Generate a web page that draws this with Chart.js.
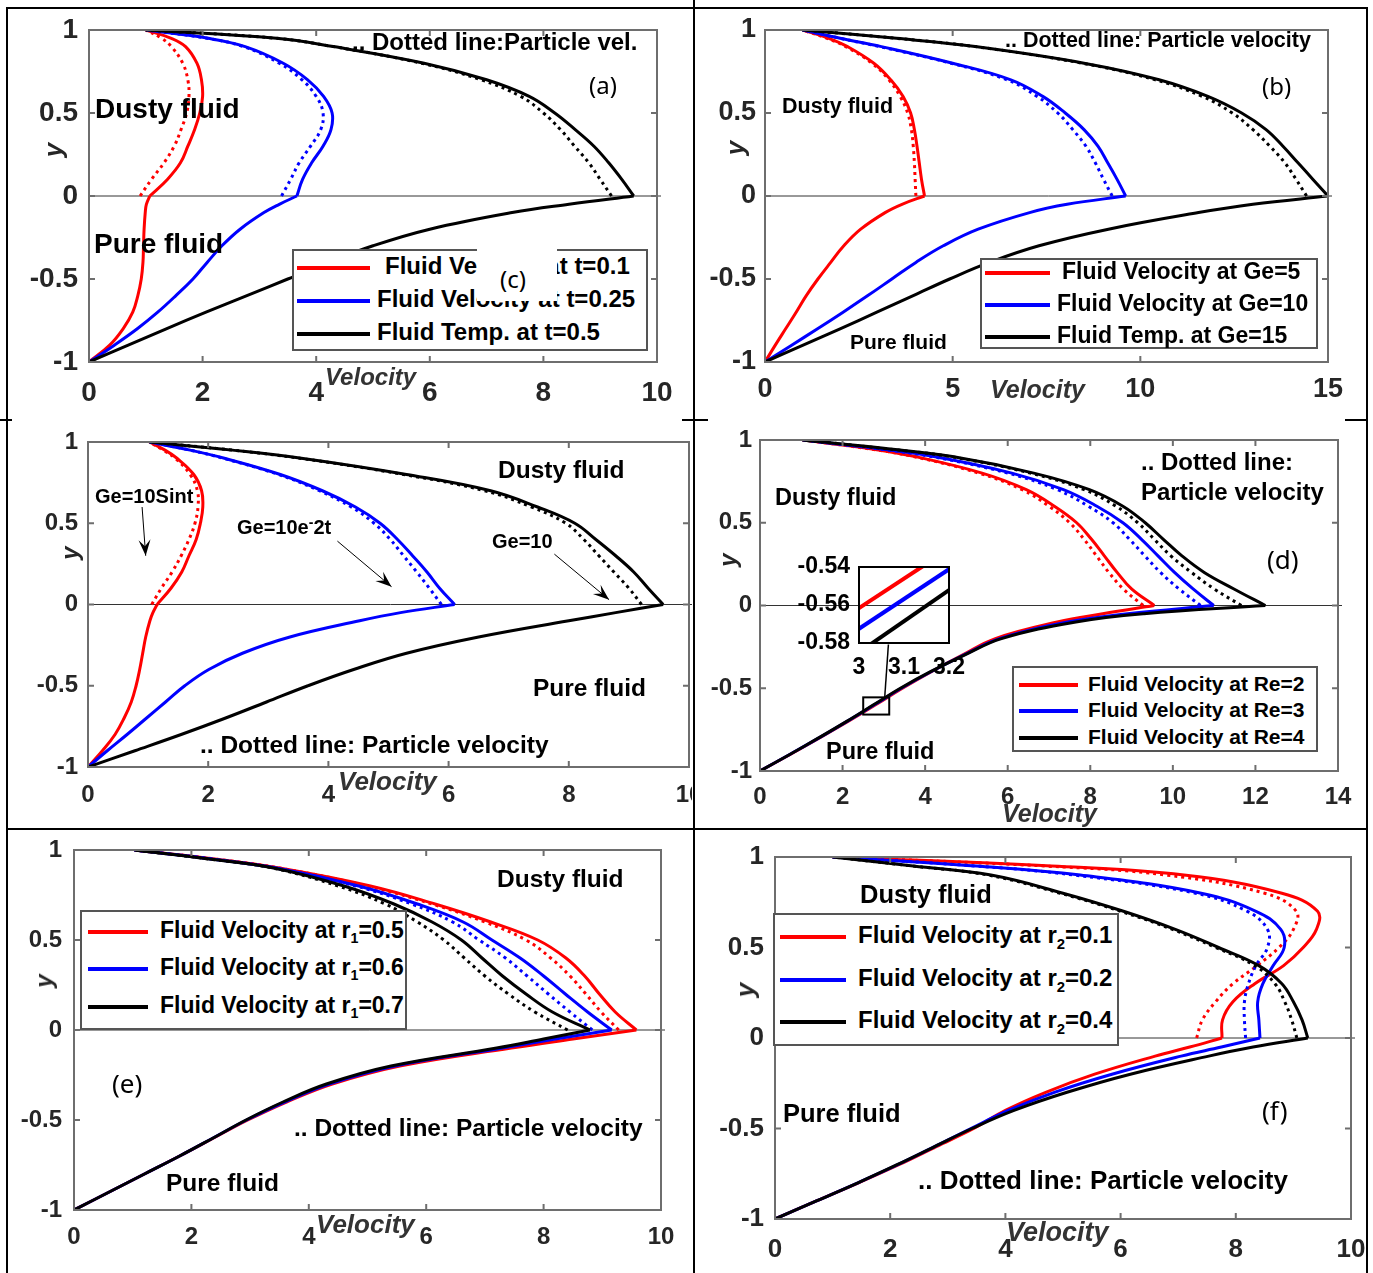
<!DOCTYPE html>
<html>
<head>
<meta charset="utf-8">
<title>Dusty fluid velocity profiles</title>
<script src="https://cdn.jsdelivr.net/npm/chart.js"></script>
<style>
    body { margin: 0; background: #fff; }
    #page { position: relative; width: 1373px; height: 1273px; overflow: hidden; background: #fff;
            font-family: "Liberation Sans", Arial, sans-serif; }
    canvas { position: absolute; }
    .t { position: absolute; white-space: nowrap; font-weight: bold; color: #000; line-height: 1;
         transform: translateY(-50%); }
    .tag { font-weight: normal; font-family: "Noto Sans", "Open Sans", sans-serif; }
    .ax { font-style: italic; color: #333; }
    .ylab { position: absolute; font-weight: bold; font-style: italic; color: #262626; line-height: 1;
            transform: translate(-50%, -50%) rotate(-90deg); }
    .rule { position: absolute; background: #000; }
    .leg { position: absolute; background: #fff; border: 2px solid #555; box-sizing: border-box; }
    .sw { position: absolute; height: 4px; }
    sub { font-size: 0.62em; vertical-align: -0.4em; line-height: 0; }
    sup { font-size: 0.7em; vertical-align: 0.5em; line-height: 0; }
</style>
</head>
<body>
<div id="page"></div>
<script>
// channel positions: dusty fluid above the interface, pure fluid below
const yUpper = [0, 0.1, 0.2, 0.3, 0.4, 0.5, 0.6, 0.7, 0.8, 0.9, 0.95, 1];
const yLower = [-1, -0.9, -0.8, -0.7, -0.6, -0.5, -0.4, -0.3, -0.2, -0.1, -0.05, 0];
const yTicks = [-1, -0.5, 0, 0.5, 1];
const yTickLabels = ["-1", "-0.5", "0", "0.5", "1"];

// (a) time
const aTicks = [0, 2, 4, 6, 8, 10];
const aRedUp = [1.07, 1.38, 1.61, 1.74, 1.86, 1.95, 2.0, 1.98, 1.9, 1.7, 1.45, 1.0];
const aRedDot = [0.9, 1.1, 1.32, 1.5, 1.62, 1.72, 1.76, 1.74, 1.65, 1.45, 1.28, 1.0];
const aRedLow = [0, 0.36, 0.6, 0.77, 0.86, 0.92, 0.95, 0.96, 0.97, 0.99, 1.01, 1.07];
const aBlueUp = [3.66, 3.76, 3.92, 4.12, 4.26, 4.28, 4.13, 3.85, 3.42, 2.75, 2.1, 1.0];
const aBlueDot = [3.39, 3.55, 3.7, 3.9, 4.08, 4.12, 4.0, 3.75, 3.35, 2.72, 2.08, 1.0];
const aBlueLow = [0, 0.44, 0.85, 1.21, 1.53, 1.83, 2.08, 2.34, 2.66, 3.08, 3.35, 3.66];
const aBlackUp = [9.59, 9.38, 9.15, 8.89, 8.56, 8.2, 7.75, 7.0, 5.9, 4.3, 3.3, 1.0];
const aBlackDot = [9.2, 9.0, 8.8, 8.55, 8.3, 8.0, 7.6, 6.9, 5.85, 4.3, 3.3, 1.0];
const aBlackLow = [0, 0.68, 1.36, 2.06, 2.78, 3.5, 4.22, 5.0, 6.0, 7.45, 8.45, 9.59];

// (b) Grashof number
const bTicks = [0, 5, 10, 15];
const bRedUp = [4.25, 4.17, 4.11, 4.05, 3.98, 3.88, 3.68, 3.35, 2.9, 2.2, 1.7, 1.0];
const bRedDot = [4.02, 4.0, 3.98, 3.95, 3.9, 3.8, 3.6, 3.3, 2.85, 2.15, 1.65, 1.0];
const bRedLow = [0, 0.27, 0.55, 0.83, 1.1, 1.41, 1.75, 2.1, 2.55, 3.2, 3.65, 4.25];
const bBlueUp = [9.61, 9.38, 9.13, 8.87, 8.5, 8.0, 7.4, 6.55, 5.0, 3.1, 2.0, 1.0];
const bBlueDot = [9.25, 9.02, 8.8, 8.55, 8.2, 7.8, 7.25, 6.45, 4.95, 3.05, 2.0, 1.0];
const bBlueLow = [0, 0.7, 1.4, 2.08, 2.74, 3.38, 4.02, 4.75, 5.68, 7.05, 8.05, 9.61];
const bBlackUp = [15.0, 14.6, 14.2, 13.8, 13.35, 12.7, 11.8, 10.5, 8.5, 5.6, 3.5, 1.0];
const bBlackDot = [14.43, 14.15, 13.85, 13.45, 13.0, 12.45, 11.65, 10.4, 8.45, 5.6, 3.5, 1.0];
const bBlackLow = [0, 1.0, 2.0, 2.98, 3.95, 4.92, 5.98, 7.3, 9.15, 11.55, 13.0, 15.0];

// (c) type of Ge
const cTicks = [0, 2, 4, 6, 8, 10];
const cRedUp = [1.15, 1.38, 1.56, 1.68, 1.8, 1.87, 1.91, 1.89, 1.76, 1.48, 1.28, 1.02];
const cRedDot = [1.06, 1.22, 1.4, 1.55, 1.68, 1.78, 1.83, 1.82, 1.7, 1.45, 1.25, 1.02];
const cRedLow = [0, 0.24, 0.45, 0.6, 0.72, 0.8, 0.86, 0.91, 0.96, 1.03, 1.08, 1.15];
const cBlueUp = [6.1, 5.85, 5.64, 5.4, 5.15, 4.86, 4.45, 3.9, 3.2, 2.27, 1.7, 1.02];
const cBlueDot = [5.88, 5.68, 5.47, 5.25, 5.03, 4.76, 4.38, 3.85, 3.17, 2.25, 1.7, 1.02];
const cBlueLow = [0, 0.32, 0.65, 0.97, 1.29, 1.61, 2.01, 2.57, 3.36, 4.52, 5.2, 6.1];
const cBlackUp = [9.57, 9.32, 9.08, 8.78, 8.45, 8.1, 7.48, 6.7, 5.3, 3.55, 2.4, 1.02];
const cBlackDot = [9.21, 9.0, 8.75, 8.5, 8.25, 7.95, 7.38, 6.6, 5.25, 3.52, 2.4, 1.02];
const cBlackLow = [0, 0.78, 1.55, 2.28, 2.97, 3.66, 4.42, 5.3, 6.5, 8.0, 8.78, 9.57];

// (d) Reynolds number
const dTicks = [0, 2, 4, 6, 8, 10, 12, 14];
const dRedUp = [9.55, 9.0, 8.65, 8.34, 8.03, 7.67, 7.13, 6.45, 5.38, 3.76, 2.6, 1.03];
const dRedDot = [9.28, 8.8, 8.45, 8.15, 7.85, 7.5, 7.0, 6.35, 5.3, 3.72, 2.55, 1.03];
const dRedLow = [0, 0.73, 1.44, 2.13, 2.8, 3.45, 4.15, 4.9, 5.7, 7.2, 8.3, 9.55];
const dBlueUp = [10.99, 10.49, 10.04, 9.64, 9.24, 8.79, 8.16, 7.35, 6.1, 4.21, 2.8, 1.03];
const dBlueDot = [10.67, 10.15, 9.7, 9.32, 8.95, 8.55, 7.95, 7.2, 6.0, 4.15, 2.75, 1.03];
const dBlueLow = [0, 0.72, 1.43, 2.11, 2.77, 3.42, 4.14, 4.93, 5.8, 7.45, 8.9, 10.99];
const dBlackUp = [12.24, 11.48, 10.76, 10.22, 9.77, 9.33, 8.79, 7.98, 6.63, 4.66, 3.0, 1.03];
const dBlackDot = [11.66, 11.0, 10.45, 9.95, 9.55, 9.15, 8.62, 7.85, 6.55, 4.6, 2.95, 1.03];
const dBlackLow = [0, 0.72, 1.42, 2.1, 2.75, 3.4, 4.13, 4.95, 5.85, 7.65, 9.3, 12.24];
// zoomed window of (d)
const insetX = [3.0, 3.2];
const insetXTicks = [3, 3.1, 3.2];
const insetXLabels = ["3", "3.1", "3.2"];
const insetYTicks = [-0.58, -0.56, -0.54];
const insetYLabels = ["-0.58", "-0.56", "-0.54"];
const insetRed = [-0.5616, -0.5306];
const insetBlue = [-0.5725, -0.5412];
const insetBlack = [-0.5849, -0.5522];

// (e) r1
const eTicks = [0, 2, 4, 6, 8, 10];
const eRedUp = [9.58, 9.22, 8.95, 8.7, 8.38, 7.9, 7.1, 6.15, 5.05, 3.5, 2.4, 1.03];
const eRedDot = [9.28, 8.98, 8.72, 8.45, 8.12, 7.7, 7.0, 6.1, 5.0, 3.5, 2.4, 1.03];
const eRedLow = [0, 0.6, 1.2, 1.8, 2.38, 2.96, 3.62, 4.4, 5.55, 7.45, 8.5, 9.58];
const eBlueUp = [9.16, 8.75, 8.37, 8.0, 7.6, 7.12, 6.63, 5.85, 4.85, 3.45, 2.35, 1.03];
const eBlueDot = [8.83, 8.45, 8.08, 7.72, 7.35, 6.9, 6.45, 5.75, 4.8, 3.42, 2.35, 1.03];
const eBlueLow = [0, 0.6, 1.2, 1.8, 2.37, 2.94, 3.59, 4.35, 5.47, 7.3, 8.2, 9.16];
const eBlackUp = [8.79, 8.15, 7.7, 7.3, 6.95, 6.6, 6.1, 5.45, 4.6, 3.4, 2.3, 1.03];
const eBlackDot = [8.41, 7.85, 7.4, 7.0, 6.65, 6.3, 5.85, 5.3, 4.5, 3.38, 2.3, 1.03];
const eBlackLow = [0, 0.6, 1.2, 1.8, 2.37, 2.93, 3.56, 4.3, 5.4, 7.2, 8.0, 8.79];

// (f) r2
const fTicks = [0, 2, 4, 6, 8, 10];
const fRedUp = [7.76, 7.77, 7.95, 8.33, 8.83, 9.17, 9.4, 9.42, 8.8, 7.1, 4.8, 1.0];
const fRedDot = [7.32, 7.42, 7.65, 7.95, 8.37, 8.75, 9.0, 9.05, 8.5, 6.8, 4.7, 1.0];
const fRedLow = [0, 0.72, 1.45, 2.15, 2.8, 3.45, 4.0, 4.7, 5.55, 6.6, 7.2, 7.76];
const fBlueUp = [8.42, 8.4, 8.38, 8.47, 8.65, 8.84, 8.78, 8.35, 7.4, 5.3, 3.5, 1.0];
const fBlueDot = [8.17, 8.15, 8.15, 8.22, 8.35, 8.55, 8.55, 8.2, 7.3, 5.2, 3.5, 1.0];
const fBlueLow = [0, 0.72, 1.44, 2.13, 2.77, 3.4, 4.05, 4.85, 5.85, 7.05, 7.75, 8.42];
const fBlackUp = [9.25, 9.15, 9.0, 8.8, 8.4, 7.7, 6.95, 6.05, 5.0, 3.75, 2.4, 1.0];
const fBlackDot = [9.06, 8.97, 8.85, 8.68, 8.33, 7.65, 6.9, 6.0, 4.95, 3.7, 2.4, 1.0];
const fBlackLow = [0, 0.72, 1.44, 2.12, 2.77, 3.42, 4.15, 5.07, 6.17, 7.53, 8.3, 9.25];

const RED = "#ff0000";
const BLUE = "#0000ff";
const BLACK = "#000000";
const FONT = "'Liberation Sans', Arial, sans-serif";

const page = document.getElementById("page");

// frame, inward ticks, interface line and annotation marks (MATLAB look)
const axesBox = {
    id: "axesBox",
    beforeDatasetsDraw(chart, args, opts) {
        if (!opts.zero) return;
        const a = chart.chartArea;
        const y0 = chart.scales.y.getPixelForValue(0);
        const ctx = chart.ctx;
        ctx.save();
        ctx.strokeStyle = "#333";
        ctx.lineWidth = 1;
        ctx.beginPath();
        ctx.moveTo(a.left, y0);
        ctx.lineTo(a.right + 4, y0);
        ctx.stroke();
        ctx.restore();
    },
    afterDatasetsDraw(chart, args, opts) {
        const ctx = chart.ctx;
        const a = chart.chartArea;
        const sx = chart.scales.x;
        const sy = chart.scales.y;
        ctx.save();
        ctx.strokeStyle = opts.color || "#6e6e6e";
        ctx.lineWidth = opts.width || 2;
        ctx.strokeRect(a.left, a.top, a.right - a.left, a.bottom - a.top);
        const len = opts.tick || 0;
        if (len) {
            ctx.beginPath();
            sx.ticks.forEach(t => {
                const px = sx.getPixelForValue(t.value);
                ctx.moveTo(px, a.bottom);
                ctx.lineTo(px, a.bottom - len);
                ctx.moveTo(px, a.top);
                ctx.lineTo(px, a.top + len);
            });
            sy.ticks.forEach(t => {
                const py = sy.getPixelForValue(t.value);
                ctx.moveTo(a.left, py);
                ctx.lineTo(a.left + len, py);
                ctx.moveTo(a.right, py);
                ctx.lineTo(a.right - len, py);
            });
            ctx.stroke();
        }
        ctx.strokeStyle = "#000";
        ctx.fillStyle = "#000";
        (opts.rects || []).forEach(r => {
            const x1 = sx.getPixelForValue(r[0]), y1 = sy.getPixelForValue(r[1]);
            const x2 = sx.getPixelForValue(r[2]), y2 = sy.getPixelForValue(r[3]);
            ctx.lineWidth = 2;
            ctx.strokeRect(x1, y1, x2 - x1, y2 - y1);
        });
        (opts.segments || []).forEach(s => {
            ctx.lineWidth = 1.5;
            ctx.beginPath();
            ctx.moveTo(sx.getPixelForValue(s[0]), sy.getPixelForValue(s[1]));
            ctx.lineTo(sx.getPixelForValue(s[2]), sy.getPixelForValue(s[3]));
            ctx.stroke();
        });
        (opts.arrows || []).forEach(s => {
            const x1 = sx.getPixelForValue(s[0]), y1 = sy.getPixelForValue(s[1]);
            const x2 = sx.getPixelForValue(s[2]), y2 = sy.getPixelForValue(s[3]);
            const ang = Math.atan2(y2 - y1, x2 - x1);
            ctx.lineWidth = 1;
            ctx.beginPath();
            ctx.moveTo(x1, y1);
            ctx.lineTo(x2, y2);
            ctx.stroke();
            const h = 16, w = 6;
            ctx.beginPath();
            ctx.moveTo(x2, y2);
            ctx.lineTo(x2 - h * Math.cos(ang) - w * Math.sin(ang), y2 - h * Math.sin(ang) + w * Math.cos(ang));
            ctx.lineTo(x2 - 0.6 * h * Math.cos(ang), y2 - 0.6 * h * Math.sin(ang));
            ctx.lineTo(x2 - h * Math.cos(ang) + w * Math.sin(ang), y2 - h * Math.sin(ang) - w * Math.cos(ang));
            ctx.closePath();
            ctx.fill();
        });
        ctx.restore();
    }
};

function series(ys, xs, color, dotted) {
    return {
        data: ys.map((y, i) => ({ x: xs[i], y: y })),
        borderColor: color,
        borderWidth: 3,
        borderDash: dotted ? [3, 4] : [],
        pointRadius: 0,
        tension: 0.4,
        fill: false,
    };
}

function makeCanvas(box, padL, padT, padR, padB) {
    const cv = document.createElement("canvas");
    const w = box[2] - box[0] + padL + padR;
    const h = box[3] - box[1] + padT + padB;
    cv.width = w;
    cv.height = h;
    cv.style.left = (box[0] - padL) + "px";
    cv.style.top = (box[1] - padT) + "px";
    cv.style.width = w + "px";
    cv.style.height = h + "px";
    page.appendChild(cv);
    return cv;
}

function makePanel(p) {
    const padL = 80, padT = 20, padB = 60;
    const cv = makeCanvas(p.box, padL, padT, p.padR, padB);
    let datasets = [];
    p.curves.forEach(c => {
        datasets.push(series(yLower, c[1], c[0], false));
        datasets.push(series(yUpper, c[2], c[0], false));
        datasets.push(series(yUpper, c[3], c[0], true));
    });
    datasets = datasets.reverse();
    const tickFont = { family: FONT, size: p.font, weight: "bold" };
    return new Chart(cv, {
        type: "line",
        data: { datasets: datasets },
        options: {
            responsive: false,
            animation: false,
            indexAxis: "y",
            layout: { padding: { top: padT, right: p.padR, left: 0, bottom: 0 } },
            plugins: {
                legend: { display: false },
                tooltip: { enabled: false },
                axesBox: Object.assign({ zero: true, tick: 6 }, p.deco || {}),
            },
            scales: {
                x: {
                    type: "linear",
                    min: 0,
                    max: p.xMax,
                    afterBuildTicks: s => { s.ticks = p.xTicks.map(v => ({ value: v })); },
                    afterFit: s => { s.height = padB; s.paddingLeft = 0; s.paddingRight = 0; },
                    ticks: {
                        font: tickFont,
                        color: "#262626",
                        padding: p.xGap - 0.6 * p.font,
                        maxRotation: 0,
                        autoSkip: false,
                        callback: v => String(v),
                    },
                    grid: { display: false, drawTicks: false },
                    border: { display: false },
                },
                y: {
                    type: "linear",
                    min: -1,
                    max: 1,
                    afterBuildTicks: s => { s.ticks = yTicks.map(v => ({ value: v })); },
                    afterFit: s => { s.width = padL; s.paddingTop = 0; s.paddingBottom = 0; },
                    ticks: {
                        font: tickFont,
                        color: "#262626",
                        padding: p.yGap,
                        autoSkip: false,
                        callback: (v, i) => yTickLabels[i],
                    },
                    grid: { display: false, drawTicks: false },
                    border: { display: false },
                },
            },
        },
        plugins: [axesBox],
    });
}

const panels = [
    {
        box: [89, 30, 657, 362], xMax: 10, xTicks: aTicks, font: 28, yGap: 11, xGap: 31, padR: 22,
        curves: [[RED, aRedLow, aRedUp, aRedDot], [BLUE, aBlueLow, aBlueUp, aBlueDot], [BLACK, aBlackLow, aBlackUp, aBlackDot]],
    },
    {
        box: [765, 30, 1328, 362], xMax: 15, xTicks: bTicks, font: 27, yGap: 9, xGap: 28, padR: 25,
        curves: [[RED, bRedLow, bRedUp, bRedDot], [BLUE, bBlueLow, bBlueUp, bBlueDot], [BLACK, bBlackLow, bBlackUp, bBlackDot]],
    },
    {
        box: [88, 442, 689, 767], xMax: 10, xTicks: cTicks, font: 24, yGap: 10, xGap: 28, padR: 3,
        curves: [[RED, cRedLow, cRedUp, cRedDot], [BLUE, cBlueLow, cBlueUp, cBlueDot], [BLACK, cBlackLow, cBlackUp, cBlackDot]],
        deco: { arrows: [[0.9, 0.6, 0.96, 0.3], [4.15, 0.39, 5.05, 0.11], [7.76, 0.31, 8.67, 0.03]] },
    },
    {
        box: [760, 440, 1338, 771], xMax: 14, xTicks: dTicks, font: 24, yGap: 8, xGap: 26, padR: 25,
        curves: [[RED, dRedLow, dRedUp, dRedDot], [BLUE, dBlueLow, dBlueUp, dBlueDot], [BLACK, dBlackLow, dBlackUp, dBlackDot]],
        deco: { rects: [[2.5, -0.555, 3.13, -0.659]], segments: [[3.11, -0.236, 3.02, -0.557]] },
    },
    {
        box: [74, 850, 661, 1210], xMax: 10, xTicks: eTicks, font: 24, yGap: 12, xGap: 27, padR: 20,
        curves: [[RED, eRedLow, eRedUp, eRedDot], [BLUE, eBlueLow, eBlueUp, eBlueDot], [BLACK, eBlackLow, eBlackUp, eBlackDot]],
    },
    {
        box: [775, 857, 1351, 1219], xMax: 10, xTicks: fTicks, font: 26, yGap: 11, xGap: 31, padR: 15,
        curves: [[RED, fRedLow, fRedUp, fRedDot], [BLUE, fBlueLow, fBlueUp, fBlueDot], [BLACK, fBlackLow, fBlackUp, fBlackDot]],
    },
];

panels.forEach(makePanel);

// inset of (d)
const insetBox = [859, 567, 949, 643];
const insetCanvas = makeCanvas(insetBox, 75, 12, 30, 45);
const insetFont = { family: FONT, size: 23, weight: "bold" };
new Chart(insetCanvas, {
    type: "line",
    data: {
        datasets: [
            { data: insetX.map((x, i) => ({ x: x, y: insetBlack[i] })), borderColor: BLACK, borderWidth: 4, pointRadius: 0, clip: 0 },
            { data: insetX.map((x, i) => ({ x: x, y: insetBlue[i] })), borderColor: BLUE, borderWidth: 4, pointRadius: 0, clip: 0 },
            { data: insetX.map((x, i) => ({ x: x, y: insetRed[i] })), borderColor: RED, borderWidth: 4, pointRadius: 0, clip: 0 },
        ],
    },
    options: {
        responsive: false,
        animation: false,
        layout: { padding: { top: 12, right: 30, left: 0, bottom: 0 } },
        plugins: {
            legend: { display: false },
            tooltip: { enabled: false },
            axesBox: { color: "#000", width: 2 },
        },
        scales: {
            x: {
                type: "linear",
                min: 3,
                max: 3.2,
                afterBuildTicks: s => { s.ticks = insetXTicks.map(v => ({ value: v })); },
                afterFit: s => { s.height = 45; s.paddingLeft = 0; s.paddingRight = 0; },
                ticks: { font: insetFont, color: "#000", padding: 11, maxRotation: 0, autoSkip: false, callback: (v, i) => insetXLabels[i] },
                grid: { display: false, drawTicks: false },
                border: { display: false },
            },
            y: {
                type: "linear",
                min: -0.58,
                max: -0.54,
                afterBuildTicks: s => { s.ticks = insetYTicks.map(v => ({ value: v })); },
                afterFit: s => { s.width = 75; s.paddingTop = 0; s.paddingBottom = 0; },
                ticks: { font: insetFont, color: "#000", padding: 9, autoSkip: false, callback: (v, i) => insetYLabels[i] },
                grid: { display: false, drawTicks: false },
                border: { display: false },
            },
        },
    },
    plugins: [axesBox],
});

// legends: box, swatch span, rows [colour, y, text x, text]
const legends = [
    { box: [292, 249, 648, 351], sw: [297, 370], size: 24, rows: [
        [RED, 268, 385, "Fluid Velocity at t=0.1"],
        [BLUE, 301, 377, "Fluid Velocity at t=0.25"],
        [BLACK, 334, 377, "Fluid Temp. at t=0.5"]] },
    { box: [980, 258, 1318, 349], sw: [985, 1050], size: 23, rows: [
        [RED, 273, 1062, "Fluid Velocity at Ge=5"],
        [BLUE, 305, 1057, "Fluid Velocity at Ge=10"],
        [BLACK, 337, 1057, "Fluid Temp. at Ge=15"]] },
    { box: [1012, 666, 1318, 752], sw: [1019, 1078], size: 21, rows: [
        [RED, 685, 1088, "Fluid Velocity at Re=2"],
        [BLUE, 711, 1088, "Fluid Velocity at Re=3"],
        [BLACK, 738, 1088, "Fluid Velocity at Re=4"]] },
    { box: [80, 910, 407, 1030], sw: [88, 148], size: 23, rows: [
        [RED, 932, 160, "Fluid Velocity at r<sub>1</sub>=0.5"],
        [BLUE, 969, 160, "Fluid Velocity at r<sub>1</sub>=0.6"],
        [BLACK, 1007, 160, "Fluid Velocity at r<sub>1</sub>=0.7"]] },
    { box: [773, 913, 1119, 1046], sw: [780, 846], size: 24, rows: [
        [RED, 937, 858, "Fluid Velocity at r<sub>2</sub>=0.1"],
        [BLUE, 980, 858, "Fluid Velocity at r<sub>2</sub>=0.2"],
        [BLACK, 1022, 858, "Fluid Velocity at r<sub>2</sub>=0.4"]] },
];

function addText(x, y, html, size, cls) {
    const el = document.createElement("div");
    el.className = "t" + (cls ? " " + cls : "");
    el.style.left = x + "px";
    el.style.top = y + "px";
    el.style.fontSize = size + "px";
    el.innerHTML = html;
    page.appendChild(el);
    return el;
}

legends.forEach(l => {
    const b = document.createElement("div");
    b.className = "leg";
    b.style.left = l.box[0] + "px";
    b.style.top = l.box[1] + "px";
    b.style.width = (l.box[2] - l.box[0]) + "px";
    b.style.height = (l.box[3] - l.box[1]) + "px";
    page.appendChild(b);
    l.rows.forEach(r => {
        const s = document.createElement("div");
        s.className = "sw";
        s.style.left = l.sw[0] + "px";
        s.style.width = (l.sw[1] - l.sw[0]) + "px";
        s.style.top = (r[1] - 2) + "px";
        s.style.background = r[0];
        page.appendChild(s);
        addText(r[2], r[1] - 2, r[3], l.size);
    });
});

// white patch with "(c)" sitting over legend (a)
const patch = document.createElement("div");
patch.style.cssText = "position:absolute;left:477px;top:246px;width:80px;height:55px;background:#fff;";
page.appendChild(patch);

// annotations [x, y, text, size, class]
const notes = [
    [513, 279, "(c)", 24, "tag"],
    [95, 109, "Dusty fluid", 28], [94, 244, "Pure fluid", 28],
    [352, 42, ".. Dotted line:Particle vel.", 24], [589, 85, "(a)", 24, "tag"],
    [325, 377, "Velocity", 24, "ax"],
    [782, 107, "Dusty fluid", 21.5], [850, 341, "Pure fluid", 21],
    [1005, 41, ".. Dotted line: Particle velocity", 21.5], [1262, 86, "(b)", 24, "tag"],
    [990, 389, "Velocity", 25, "ax"],
    [498, 470, "Dusty fluid", 24.5], [533, 688, "Pure fluid", 24.5],
    [200, 745, ".. Dotted line: Particle velocity", 24.5],
    [95, 496, "Ge=10Sint", 20], [237, 527, "Ge=10e<sup>-</sup>2t", 20], [492, 541, "Ge=10", 20],
    [338, 781, "Velocity", 26, "ax"],
    [775, 498, "Dusty fluid", 23.5], [1141, 462, ".. Dotted line:", 24], [1141, 492, "Particle velocity", 24],
    [1267, 559, "(d)", 26, "tag"], [826, 752, "Pure fluid", 23.5], [1002, 813, "Velocity", 25, "ax"],
    [497, 879, "Dusty fluid", 24.5], [112, 1083, "(e)", 26, "tag"],
    [294, 1128, ".. Dotted line: Particle velocity", 24.5], [166, 1183, "Pure fluid", 24.5],
    [316, 1224, "Velocity", 26, "ax"],
    [860, 895, "Dusty fluid", 25.5], [783, 1114, "Pure fluid", 25.5], [1262, 1110, "(f)", 26, "tag"],
    [918, 1180, ".. Dotted line: Particle velocity", 26], [1006, 1232, "Velocity", 27, "ax"],
];
notes.forEach(n => {
    const el = addText(n[0], n[1], n[2], n[3], n[4]);
    if (n[2] === "(c)") el.style.transform = "translate(-50%, -50%)";
});

// rotated y axis names [x, y, size]
const yNames = [[53, 150, 26], [735, 148, 26], [70, 553, 24], [728, 560, 24], [44, 981, 24], [745, 990, 26]];
yNames.forEach(n => {
    const el = document.createElement("div");
    el.className = "ylab";
    el.style.left = n[0] + "px";
    el.style.top = n[1] + "px";
    el.style.fontSize = n[2] + "px";
    el.textContent = "y";
    page.appendChild(el);
});

// table rules around the six figures [x, y, w, h]
const rules = [
    [7, 7, 1361, 2], [7, 828, 1361, 2],
    [0, 419, 12, 2], [682, 419, 26, 2], [1345, 419, 22, 2],
    [6, 7, 2, 1266], [693, 0, 2, 1273], [1366, 7, 2, 1266],
];
rules.forEach(r => {
    const el = document.createElement("div");
    el.className = "rule";
    el.style.cssText += "left:" + r[0] + "px;top:" + r[1] + "px;width:" + r[2] + "px;height:" + r[3] + "px;";
    page.appendChild(el);
});
</script>
</body>
</html>
